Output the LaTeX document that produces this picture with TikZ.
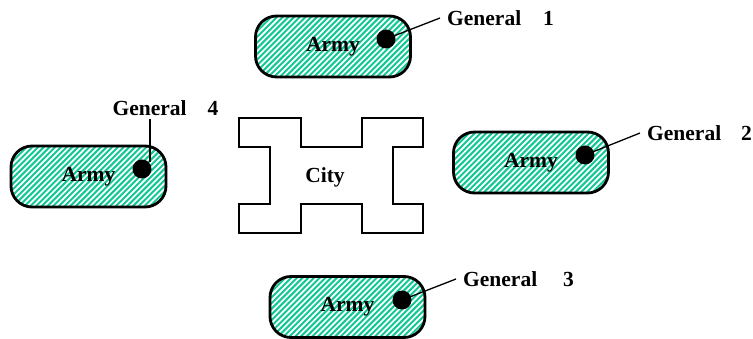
\documentclass[tikz,border=0pt]{standalone}
\usepackage{fontspec}
\setmainfont{Liberation Serif}
\definecolor{hatchc}{RGB}{20,200,150}
\tikzset{
  army/.style={draw=black, line width=2.8pt, rounded corners=21pt, minimum width=155pt, minimum height=61pt, inner sep=0pt,
    font=\fontsize{21.5}{24}\selectfont\bfseries,
    path picture={\foreach \k in {-22,...,22}{\draw[hatchc, line width=2pt] ([shift={({\k*5.7pt-45pt},-45pt)}]path picture bounding box.center) -- ++(90pt,90pt);}}},
  gdot/.style={circle, fill=black, minimum size=19pt, inner sep=0pt},
  glabel/.style={inner xsep=7pt, inner ysep=3pt, font=\fontsize{21.5}{24}\selectfont\bfseries},
  leader/.style={draw=black, line width=1.3pt},
  citywall/.style={draw=black, line width=2.5pt, line join=miter}
}
\begin{document}
\begin{tikzpicture}[x=1pt,y=-1pt]
\useasboundingbox (0,0) rectangle (753,339);
% city
\draw[citywall] (239,118) -- (301,118) -- (301,147) -- (362,147) -- (362,118) -- (423,118) -- (423,147) -- (393,147) -- (393,204) -- (423,204) -- (423,233) -- (362,233) -- (362,204) -- (301,204) -- (301,233) -- (239,233) -- (239,204) -- (270,204) -- (270,147) -- (239,147) -- cycle;
\node[font=\fontsize{21.5}{24}\selectfont\bfseries] (city) at (325,177) {City};
% armies
\node[army] (a1) at (333,46.5) {Army};
\node[army] (a2) at (531,162.5) {Army};
\node[army] (a3) at (347.5,307) {Army};
\node[army] (a4) at (88.5,176.5) {Army};
% labels
\node[glabel, anchor=west] (g1) at (440,18) {General\hspace{22pt}1};
\node[glabel, anchor=west] (g2) at (640,133) {General\hspace{20pt}2};
\node[glabel, anchor=west] (g3) at (456,279) {General\hspace{26pt}3};
\node[glabel, anchor=south] (g4) at (165.5,119) {General\hspace{21pt}4};
% dots positions
\coordinate (d1c) at (386,39);
\coordinate (d2c) at (585,155);
\coordinate (d3c) at (402,300);
\coordinate (d4c) at (142,169);
% leaders
\draw[leader] (d1c) -- (g1.west);
\draw[leader] (d2c) -- (g2.west);
\draw[leader] (d3c) -- (g3.west);
\draw[leader] (150,162) -- (150,119);
% dots
\node[gdot] (d1) at (d1c) {};
\node[gdot] (d2) at (d2c) {};
\node[gdot] (d3) at (d3c) {};
\node[gdot] (d4) at (d4c) {};
\end{tikzpicture}
\end{document}
